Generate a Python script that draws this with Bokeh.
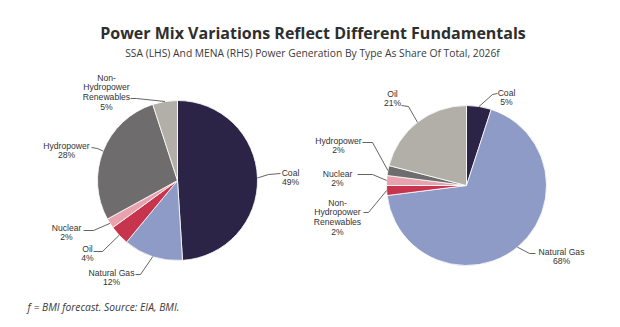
import math
from bokeh.plotting import figure
from bokeh.models import Range1d, ColumnDataSource
from bokeh.core.properties import value
from bokeh.embed import file_html
from bokeh.resources import INLINE

# ---------------- data ----------------
title = "Power Mix Variations Reflect Different Fundamentals"
subtitle = "SSA (LHS) And MENA (RHS) Power Generation By Type As Share Of Total, 2026f"
footnote = "f = BMI forecast. Source: EIA, BMI."

ssa_types = ["Coal", "Natural Gas", "Oil", "Nuclear", "Hydropower", "Non-Hydropower Renewables"]
ssa_share = [49, 12, 4, 2, 28, 5]

mena_types = ["Coal", "Natural Gas", "Non-Hydropower Renewables", "Nuclear", "Hydropower", "Oil"]
mena_share = [5, 68, 2, 2, 2, 21]

# ---------------- styling / layout ----------------
W, H = 620, 327
slice_colors = ["#2b2446", "#8e9bc7", "#c7344d", "#e8a2ad", "#6e6c6c", "#b1afa7"]
TEXT_DARK = "#2e2e2e"
LABEL_COLOR = "#333333"
LEADER_COLOR = "#3c3c3c"
LINE_STEP = 9.7

# label anchor (centre x, first line y) and leader (text end, knee), in page pixels (y down)
ssa_layout = dict(
    cx=177, cy=180, r=80,
    label_pos=[(290, 172), (111, 272), (87, 248), (66, 227), (66, 145), (106, 77)],
    leader=[((280, 173), (268, 174)), ((135, 274), (140, 274)), ((93, 251), (102, 251)),
            ((83, 230), (93, 230)), ((91, 147), (97, 148)), ((130, 98), (136, 98))],
)
mena_layout = dict(
    cx=466, cy=185, r=80,
    label_pos=[(506, 92), (561, 251), (337, 202), (337, 173), (338, 140), (392, 93)],
    leader=[((497, 93), (492, 94)), ((535, 253), (529, 253)), ((363, 212), (368, 212)),
            ((357, 174), (372, 174)), ((362, 142), (372, 142)), ((401, 105), (408, 106))],
)


def Y(y):
    return H - y


def wrap(name):
    return name.replace("Non-", "Non-\n").replace(" Renewables", "\nRenewables").split("\n")


p = figure(width=W, height=H, x_range=Range1d(0, W), y_range=Range1d(0, H),
           toolbar_location=None, output_backend="svg", min_border=0,
           x_axis_type=None, y_axis_type=None)
p.grid.visible = False
p.outline_line_color = None
p.background_fill_color = "white"
p.border_fill_color = "white"


def draw_pie(types, shares, lay):
    total = float(sum(shares))
    starts, ends, mids = [], [], []
    cum = 0.0
    for s in shares:
        a0 = math.pi / 2 - 2 * math.pi * cum / total
        cum += s
        a1 = math.pi / 2 - 2 * math.pi * cum / total
        starts.append(a0)
        ends.append(a1)
        mids.append((a0 + a1) / 2)
    n = len(shares)
    src = ColumnDataSource(dict(
        x=[lay["cx"]] * n, y=[Y(lay["cy"])] * n, start=starts, end=ends,
        color=slice_colors[:n]))
    p.wedge(x="x", y="y", radius=lay["r"], start_angle="start", end_angle="end",
            direction="clock", fill_color="color", line_color="white", line_width=0.8,
            source=src)

    # leaders
    xs, ys = [], []
    for m, ((ex, ey), (kx, ky)) in zip(mids, lay["leader"]):
        px = lay["cx"] + lay["r"] * math.cos(m)
        py = Y(lay["cy"]) + lay["r"] * math.sin(m)
        xs.append([px, kx, ex])
        ys.append([py, Y(ky), Y(ey)])
    p.multi_line(xs=xs, ys=ys, line_color=LEADER_COLOR, line_width=0.8)

    # labels
    tx, ty, tt = [], [], []
    for name, s, (lx, ly) in zip(types, shares, lay["label_pos"]):
        lines = wrap(name) + [f"{s}%"]
        for i, t in enumerate(lines):
            tx.append(lx)
            ty.append(Y(ly + i * LINE_STEP))
            tt.append(t)
    p.text(x=tx, y=ty, text=tt, text_align="center", text_baseline="middle",
           text_font=value("Liberation Sans"), text_font_size="8.6px",
           text_color=LABEL_COLOR)


draw_pie(ssa_types, ssa_share, ssa_layout)
draw_pie(mena_types, mena_share, mena_layout)

p.text(x=[312.5], y=[Y(32)], text=[title], text_align="center", text_baseline="alphabetic",
       text_font=value("Open Sans"), text_font_style="bold", text_font_size="16px",
       text_color=TEXT_DARK)
p.text(x=[312], y=[Y(52)], text=[subtitle], text_align="center", text_baseline="alphabetic",
       text_font=value("Open Sans"), text_font_size="10.3px", text_color="#3a3a3a")
p.text(x=[27], y=[Y(306)], text=[footnote], text_align="left", text_baseline="alphabetic",
       text_font=value("Open Sans"), text_font_style="italic", text_font_size="10.3px",
       text_color="#3a3a3a")

open("out.html", "w").write(file_html(p, INLINE))
